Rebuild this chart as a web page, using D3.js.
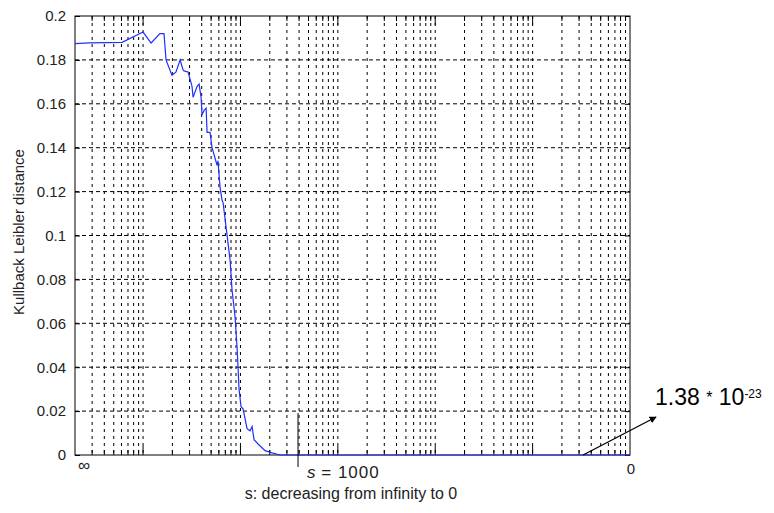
<!DOCTYPE html>
<html>
<head>
<meta charset="utf-8">
<script src="https://cdn.jsdelivr.net/npm/d3@7"></script>
<style>
  body { margin: 0; background: #fff; }
  text { font-family: "Liberation Sans", Arial, sans-serif; fill: #222; }
</style>
</head>
<body>
<div id="chart"></div>
<script>
// x values are on a log index (left = s at infinity, right = s at 0)
var xIndex = [2, 2.79, 6.09, 10, 12.08, 14.9, 16.4, 17.2, 19.8, 21.8, 24.0, 25.7, 26.3, 29.0,
  31.8, 32.6, 35.9, 37.6, 39.4, 40.3, 42.3, 44.4, 45.4, 48.7, 51.1, 57.5, 58.8, 61.7, 64.7,
  66.3, 78.2, 82.0, 84.0, 88.0, 92.3, 94.5, 96.7, 101.4, 106.3, 116.9, 125.5, 131.6, 137.9,
  151.6, 178.9, 211, 255, 1000, 1e4, 1e5, 1e6];
var klDistance = [0.1874, 0.1878, 0.188, 0.1927, 0.1877, 0.192, 0.192, 0.180, 0.173, 0.1745,
  0.180, 0.1755, 0.175, 0.1745, 0.168, 0.163, 0.168, 0.169, 0.163, 0.155, 0.157, 0.158, 0.147,
  0.147, 0.140, 0.132, 0.134, 0.122, 0.116, 0.115, 0.089, 0.075, 0.071, 0.063, 0.049, 0.040,
  0.030, 0.022, 0.021, 0.012, 0.011, 0.013, 0.007, 0.005, 0.002, 0.001, 0, 0, 0, 0, 0];
var yTicks = [0, 0.02, 0.04, 0.06, 0.08, 0.1, 0.12, 0.14, 0.16, 0.18, 0.2];
var xDomain = [2, 1e6];
var sMarkX = 390;          // where s = 1000 sits on the index axis
var noteFrom = [3.3e5, 0];  // arrow start (data coords)
var noteTo = [1.85e6, 0.0173];

var margin = {top: 16, right: 144, bottom: 58, left: 75},
    w = 774 - margin.left - margin.right,
    h = 513 - margin.top - margin.bottom;

var svg = d3.select("#chart")
  .append("svg")
  .attr("width", 774)
  .attr("height", 513);

svg.append("defs").append("marker")
  .attr("id", "arrow")
  .attr("viewBox", "0 0 10 10")
  .attr("refX", 9).attr("refY", 5)
  .attr("markerWidth", 5.5).attr("markerHeight", 5.5)
  .attr("orient", "auto")
  .append("path")
  .attr("d", "M0,0L10,5L0,10z")
  .attr("fill", "#000");

var g = svg.append("g")
  .attr("transform", `translate(${margin.left},${margin.top})`);

var x = d3.scaleLog().domain(xDomain).range([0, w]);
var y = d3.scaleLinear().domain([0, 0.2]).range([h, 0]);

// log grid values
var majors = [], minors = [];
for (var e = 0; e <= 5; e++) {
  for (var k = 1; k <= 9; k++) {
    var v = k * Math.pow(10, e);
    if (v <= xDomain[0] || v >= xDomain[1]) continue;
    if (k == 1) majors.push(v); else minors.push(v);
  }
}

// vertical dashed grid
g.selectAll(".vgrid")
  .data(majors.concat(minors))
  .enter().append("line")
  .attr("class", "vgrid")
  .attr("x1", d => x(d)).attr("x2", d => x(d))
  .attr("y1", 0).attr("y2", h)
  .style("stroke", "#000")
  .style("stroke-width", 1)
  .style("stroke-dasharray", "3,4");

// horizontal dashed grid
g.selectAll(".hgrid")
  .data(yTicks.slice(1, -1))
  .enter().append("line")
  .attr("class", "hgrid")
  .attr("x1", 0).attr("x2", w)
  .attr("y1", d => y(d)).attr("y2", d => y(d))
  .style("stroke", "#000")
  .style("stroke-width", 1)
  .style("stroke-dasharray", "4,3");

// inner ticks, top and bottom
[0, h].forEach(function(yy) {
  var dir = yy == 0 ? 1 : -1;
  g.selectAll(null).data(majors).enter().append("line")
    .attr("x1", d => x(d)).attr("x2", d => x(d))
    .attr("y1", yy).attr("y2", yy + dir * 9)
    .style("stroke", "#000");
  g.selectAll(null).data(minors).enter().append("line")
    .attr("x1", d => x(d)).attr("x2", d => x(d))
    .attr("y1", yy).attr("y2", yy + dir * 5)
    .style("stroke", "#000");
});

// y axis with inner ticks
var yAxis = d3.axisLeft(y).tickValues(yTicks).tickSizeInner(-5).tickSizeOuter(0)
  .tickPadding(9).tickFormat(d => d3.format("")(+d.toFixed(2)));
var ya = g.append("g").call(yAxis);
ya.selectAll("text").style("font-size", "15px").style("fill", "#222");
ya.select(".domain").remove();
g.append("g").attr("transform", `translate(${w},0)`)
  .call(d3.axisRight(y).tickValues(yTicks).tickSizeInner(-5).tickSizeOuter(0).tickFormat(""))
  .select(".domain").remove();

// frame
g.append("rect")
  .attr("width", w).attr("height", h)
  .attr("fill", "none")
  .style("stroke", "#000")
  .style("stroke-width", 1);

// the curve
var line = d3.line()
  .x(d => x(d[0]))
  .y(d => y(d[1]));
g.append("path")
  .datum(xIndex.map((d, i) => [d, klDistance[i]]))
  .attr("d", line)
  .attr("fill", "none")
  .style("stroke", "#1f2fff")
  .style("stroke-width", 1.2);

// x axis end labels
g.append("text")
  .attr("x", x(xDomain[0]) + 9).attr("y", h + 16)
  .attr("text-anchor", "middle")
  .style("font-size", "17px")
  .text("\u221E");
g.append("text")
  .attr("x", x(xDomain[1]) + 1).attr("y", h + 19)
  .attr("text-anchor", "middle")
  .style("font-size", "15px")
  .text("0");

// s = 1000 marker
g.append("line")
  .attr("x1", x(sMarkX)).attr("x2", x(sMarkX))
  .attr("y1", h - 42).attr("y2", h + 12)
  .style("stroke", "#000");
var sm = g.append("text")
  .attr("x", x(sMarkX) + 9).attr("y", h + 23)
  .style("font-size", "17px");
sm.append("tspan").style("font-style", "italic").text("s");
sm.append("tspan").text(" = 1000").attr("letter-spacing", "1px");

// x label
g.append("text")
  .attr("x", 351 - margin.left).attr("y", h + 44)
  .attr("text-anchor", "middle")
  .style("font-size", "16px")
  .text("s: decreasing from infinity to 0");

// y label
g.append("text")
  .attr("transform", "rotate(-90)")
  .attr("x", -(232 - margin.top)).attr("y", -51)
  .attr("text-anchor", "middle")
  .style("font-size", "15px")
  .text("Kullback Leibler distance");

// annotation
g.append("line")
  .attr("x1", x(noteFrom[0])).attr("y1", y(noteFrom[1]))
  .attr("x2", x(noteTo[0])).attr("y2", y(noteTo[1]))
  .style("stroke", "#000")
  .style("stroke-width", 1.3)
  .attr("marker-end", "url(#arrow)");
var note = g.append("text")
  .attr("x", 655 - margin.left).attr("y", 405 - margin.top)
  .style("font-size", "23px")
  .style("fill", "#000");
note.append("tspan").text("1.38 ");
note.append("tspan").style("font-size", "16px").attr("dy", -2).text("*");
note.append("tspan").attr("dy", 2).text(" 10");
note.append("tspan").style("font-size", "12px").attr("dy", -7).text("-23");
</script>
</body>
</html>
